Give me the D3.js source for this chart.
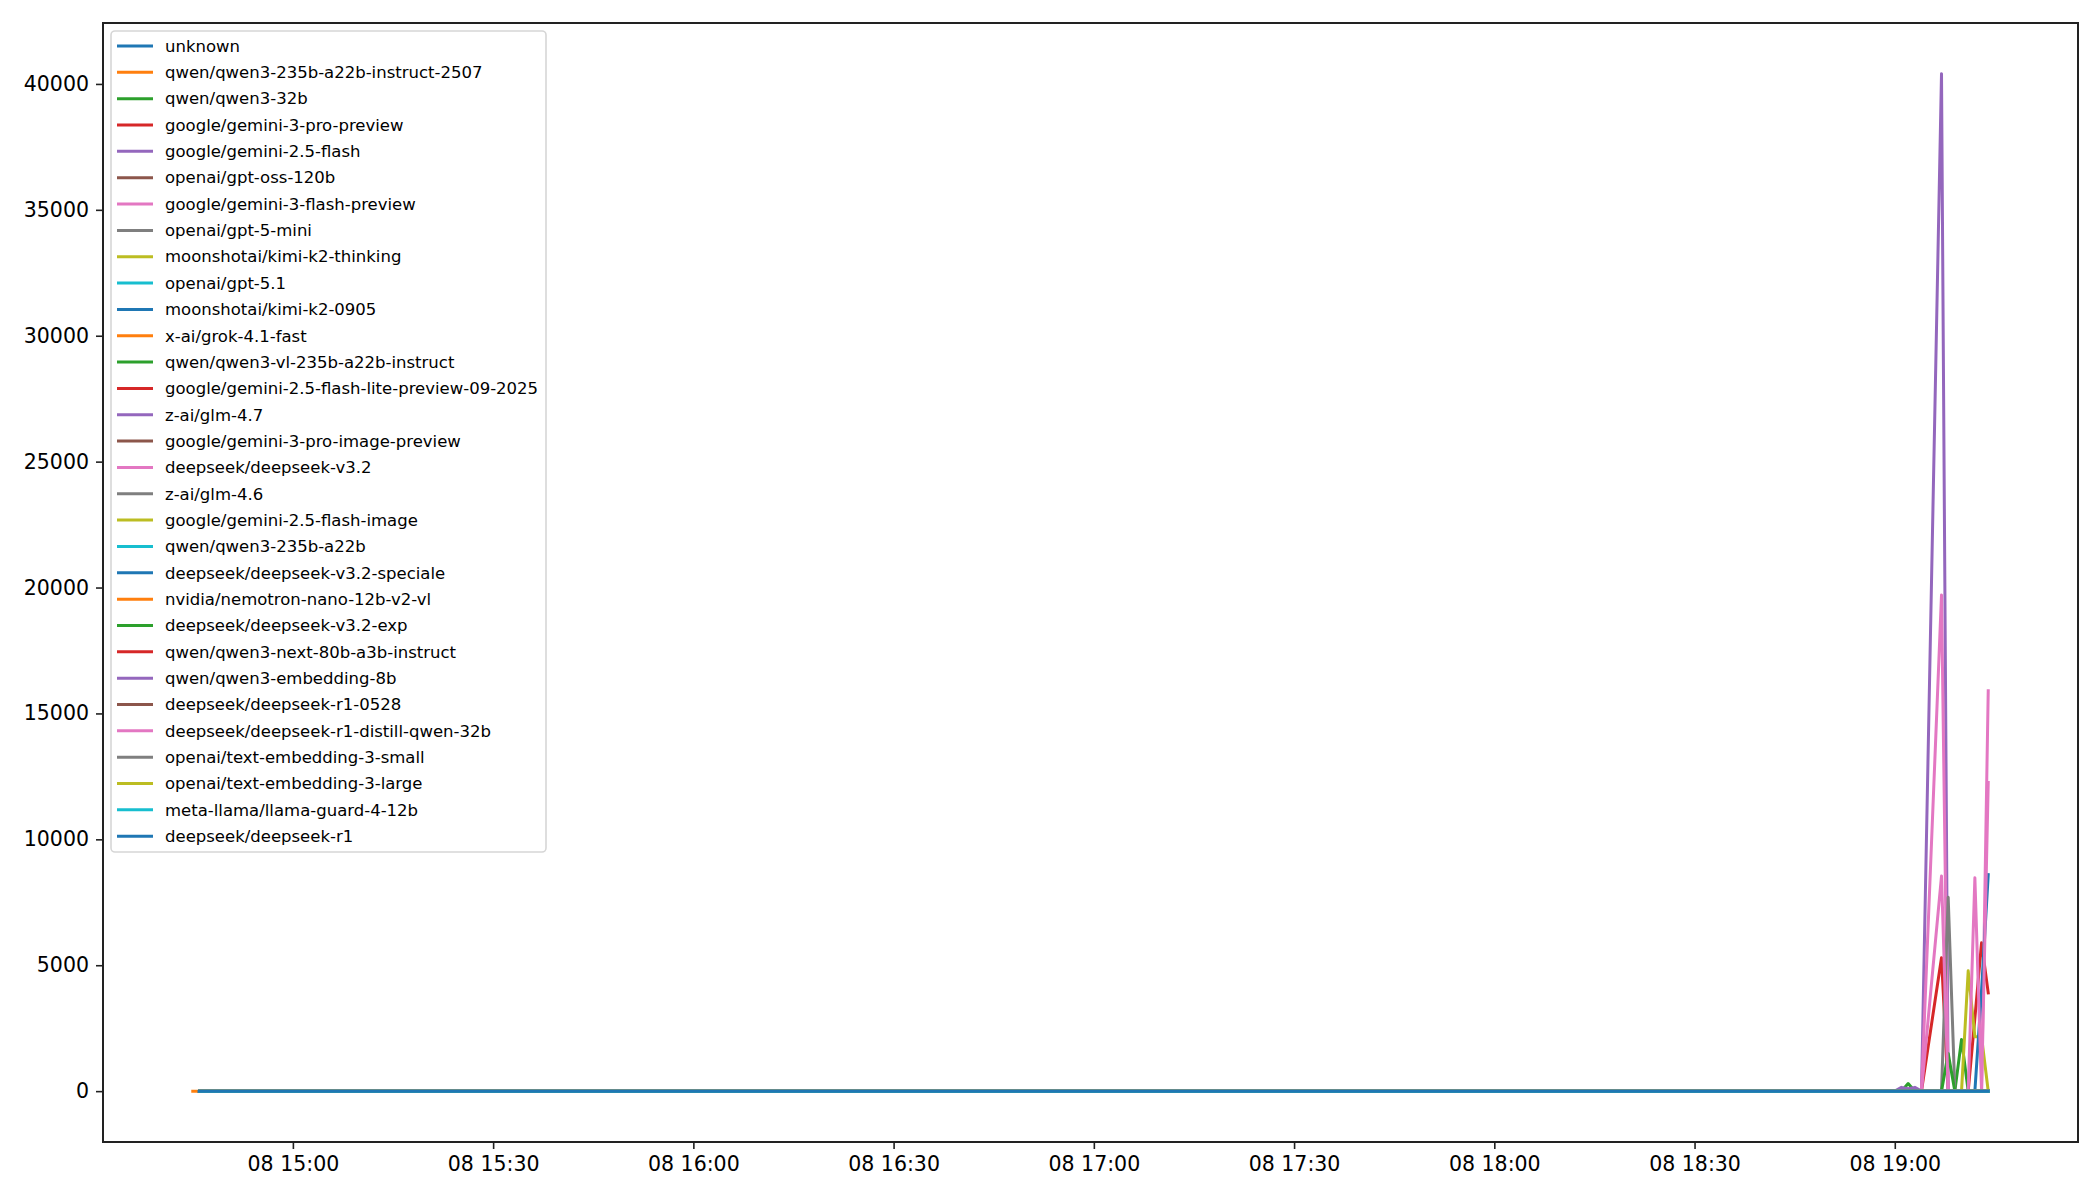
<!DOCTYPE html>
<html>
<head>
<meta charset="utf-8">
<script src="https://cdn.jsdelivr.net/npm/d3@7"></script>
<style>
  html, body { margin: 0; padding: 0; background: #fff; }
  svg { display: block; }
  text { font-family: "DejaVu Sans", sans-serif; fill: #000; }
</style>
</head>
<body>
<svg id="chart" width="2100" height="1200"></svg>
<script>
// ---------- DATA ----------
// Timestamps (day 08) at which the series have recorded points
const times = ["14:45", "14:46", "19:00", "19:01", "19:02", "19:03", "19:04",
               "19:07", "19:08", "19:09", "19:10", "19:11", "19:12", "19:13", "19:14"];

const seriesNames = [
  "unknown",
  "qwen/qwen3-235b-a22b-instruct-2507",
  "qwen/qwen3-32b",
  "google/gemini-3-pro-preview",
  "google/gemini-2.5-flash",
  "openai/gpt-oss-120b",
  "google/gemini-3-flash-preview",
  "openai/gpt-5-mini",
  "moonshotai/kimi-k2-thinking",
  "openai/gpt-5.1",
  "moonshotai/kimi-k2-0905",
  "x-ai/grok-4.1-fast",
  "qwen/qwen3-vl-235b-a22b-instruct",
  "google/gemini-2.5-flash-lite-preview-09-2025",
  "z-ai/glm-4.7",
  "google/gemini-3-pro-image-preview",
  "deepseek/deepseek-v3.2",
  "z-ai/glm-4.6",
  "google/gemini-2.5-flash-image",
  "qwen/qwen3-235b-a22b",
  "deepseek/deepseek-v3.2-speciale",
  "nvidia/nemotron-nano-12b-v2-vl",
  "deepseek/deepseek-v3.2-exp",
  "qwen/qwen3-next-80b-a3b-instruct",
  "qwen/qwen3-embedding-8b",
  "deepseek/deepseek-r1-0528",
  "deepseek/deepseek-r1-distill-qwen-32b",
  "openai/text-embedding-3-small",
  "openai/text-embedding-3-large",
  "meta-llama/llama-guard-4-12b",
  "deepseek/deepseek-r1"
];

// values aligned with `times` (null = no point)
const zeroRow = [null, 0, 0, 0, 0, 0, 0, 0, 0, 0, 0, 0, 0, 0, 0];
const seriesValues = {
  "unknown":                              zeroRow,
  "qwen/qwen3-235b-a22b-instruct-2507":   [0, 0, 0, 0, 0, 0, 0, 0, 0, 0, 0, 0, 0, 0, 0],
  "qwen/qwen3-32b":                       [null, 0, 0, 0, 300, 0, 0, 0, 0, 0, 2050, 0, 0, 0, 0],
  "google/gemini-3-pro-preview":          [null, 0, 0, 0, 0, 0, 0, 5300, 0, 0, 0, 0, 2900, 5890, 3900],
  "google/gemini-2.5-flash":              [null, 0, 0, 0, 0, 0, 0, 40400, 0, 0, 0, 0, 0, 0, 0],
  "google/gemini-3-flash-preview":        [null, 0, 0, 0, 0, 0, 0, 19700, 0, 0, 0, 0, 0, 0, 15900],
  "openai/gpt-5-mini":                    [null, 0, 0, 0, 0, 0, 0, 0, 7700, 0, 0, 0, 0, 0, 0],
  "moonshotai/kimi-k2-thinking":          [null, 0, 0, 0, 0, 0, 0, 0, 0, 0, 0, 4780, 2160, 2160, 0],
  "moonshotai/kimi-k2-0905":              [null, 0, 0, 0, 0, 0, 0, 0, 0, 0, 0, 0, 0, 4000, 8600],
  "qwen/qwen3-vl-235b-a22b-instruct":     [null, 0, 0, 0, 0, 0, 0, 0, 1500, 0, 0, 0, 0, 0, 0],
  "z-ai/glm-4.7":                         [null, 0, 0, 150, 100, 150, 0, 0, 0, 0, 0, 0, 0, 0, 0],
  "deepseek/deepseek-v3.2":               [null, 0, 0, 0, 0, 0, 0, 8540, 0, 0, 0, 0, 8470, 0, 12260]
};

const yTickValues = [0, 5000, 10000, 15000, 20000, 25000, 30000, 35000, 40000];
const xTickLabels = ["08 15:00", "08 15:30", "08 16:00", "08 16:30", "08 17:00",
                     "08 17:30", "08 18:00", "08 18:30", "08 19:00"];

const palette = ["#1f77b4", "#ff7f0e", "#2ca02c", "#d62728", "#9467bd",
                 "#8c564b", "#e377c2", "#7f7f7f", "#bcbd22", "#17becf"];

// ---------- LAYOUT ----------
const plot = { left: 103, right: 2078, top: 23, bottom: 1142 };
const svg = d3.select("#chart");

const parseT = s => { const [h, m] = s.split(":").map(Number); return new Date(2026, 0, 8, h, m); };
const tDates = times.map(parseT);

const tExt = d3.extent(tDates);
const tPad = (tExt[1] - tExt[0]) * 0.05;
const x = d3.scaleTime()
  .domain([new Date(+tExt[0] - tPad), new Date(+tExt[1] + tPad)])
  .range([plot.left, plot.right]);

const allVals = Object.values(seriesValues).flat().filter(v => v != null);
const vMax = d3.max(allVals), vMin = d3.min(allVals);
const vPad = (vMax - vMin) * 0.05;
const y = d3.scaleLinear().domain([vMin - vPad, vMax + vPad]).range([plot.bottom, plot.top]);

// ---------- LINES ----------
const line = d3.line()
  .defined(d => d.v != null)
  .x(d => x(d.t))
  .y(d => y(d.v));

const gLines = svg.append("g");

seriesNames.forEach((name, i) => {
  const vals = seriesValues[name] || zeroRow;
  const pts = tDates.map((t, k) => ({ t, v: vals[k] }));
  gLines.append("path")
    .datum(pts)
    .attr("d", line)
    .attr("fill", "none")
    .attr("stroke", palette[i % 10])
    .attr("stroke-width", 3)
    .attr("stroke-linecap", "square")
    .attr("stroke-linejoin", "round");
});

// ---------- AXES ----------
const xTicks = xTickLabels.map(s => {
  const [d, hm] = s.split(" ");
  const [h, m] = hm.split(":").map(Number);
  return new Date(2026, 0, +d, h, m);
});

const xAxis = d3.axisBottom(x)
  .tickValues(xTicks)
  .tickFormat((d, i) => xTickLabels[i])
  .tickSize(7).tickPadding(7);
const gx = svg.append("g").attr("transform", `translate(0,${plot.bottom})`).call(xAxis);
gx.select(".domain").remove();
gx.selectAll("line").attr("stroke", "#222").attr("stroke-width", 1.6);
gx.selectAll("text").attr("font-size", 20.5).attr("font-family", "DejaVu Sans");

const yAxis = d3.axisLeft(y)
  .tickValues(yTickValues)
  .tickFormat(d3.format("d"))
  .tickSize(7).tickPadding(7);
const gy = svg.append("g").attr("transform", `translate(${plot.left},0)`).call(yAxis);
gy.select(".domain").remove();
gy.selectAll("line").attr("stroke", "#222").attr("stroke-width", 1.6);
gy.selectAll("text").attr("font-size", 20.5).attr("font-family", "DejaVu Sans");

// frame
svg.append("rect")
  .attr("x", plot.left).attr("y", plot.top)
  .attr("width", plot.right - plot.left).attr("height", plot.bottom - plot.top)
  .attr("fill", "none").attr("stroke", "#222").attr("stroke-width", 2);

// ---------- LEGEND ----------
const leg = { x: 111, y: 31, w: 435, h: 821, row0: 46, rowH: 26.34 };
const gLeg = svg.append("g");
gLeg.append("rect")
  .attr("x", leg.x).attr("y", leg.y).attr("width", leg.w).attr("height", leg.h)
  .attr("rx", 4).attr("fill", "#fff").attr("fill-opacity", 0.8)
  .attr("stroke", "#d6d6d6").attr("stroke-width", 1.6);

seriesNames.forEach((name, i) => {
  const cy = leg.row0 + i * leg.rowH;
  gLeg.append("line")
    .attr("x1", 117).attr("x2", 153).attr("y1", cy).attr("y2", cy)
    .attr("stroke", palette[i % 10]).attr("stroke-width", 3);
  gLeg.append("text")
    .attr("x", 165).attr("y", cy).attr("dy", "0.35em")
    .attr("font-size", 16.5)
    .text(name);
});
</script>
</body>
</html>
